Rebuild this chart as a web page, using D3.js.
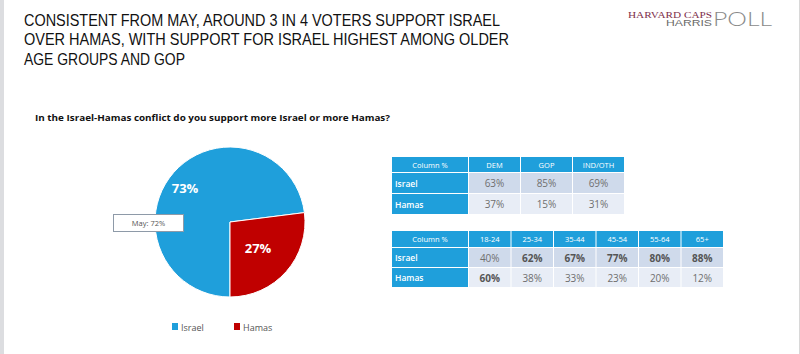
<!DOCTYPE html>
<html>
<head>
<meta charset="utf-8">
<script src="https://cdn.jsdelivr.net/npm/d3@7"></script>
<style>
  html, body { margin: 0; padding: 0; background: #fff; }
  svg { display: block; }
</style>
</head>
<body>
<svg id="chart" width="800" height="354"></svg>
<script>
// ---------- data ----------
const titleLines = [
  "CONSISTENT FROM MAY, AROUND 3 IN 4 VOTERS SUPPORT ISRAEL",
  "OVER HAMAS, WITH SUPPORT FOR ISRAEL HIGHEST AMONG OLDER",
  "AGE GROUPS AND GOP"
];
const question = "In the Israel-Hamas conflict do you support more Israel or more Hamas?";
const pieLabels = ["Israel", "Hamas"];
const pieValues = [73, 27];
const mayNote = "May: 72%";
const rowLabels = ["Israel", "Hamas"];
const partyCols = ["DEM", "GOP", "IND/OTH"];
const partyIsrael = [63, 85, 69];
const partyHamas = [37, 15, 31];
const ageCols = ["18-24", "25-34", "35-44", "45-54", "55-64", "65+"];
const ageIsrael = [40, 62, 67, 77, 80, 88];
const ageHamas = [60, 38, 33, 23, 20, 12];

// ---------- drawing ----------
const svg = d3.select("#chart");
const BLUE = "#1f9fdb", RED = "#c00000";
const SANS = "'Open Sans', 'Noto Sans', sans-serif";

// frame
svg.append("rect").attr("x", 0).attr("y", 0).attr("width", 800).attr("height", 354).attr("fill", "#fff");
svg.append("rect").attr("x", 0).attr("y", 0).attr("width", 4).attr("height", 354).attr("fill", "#dcdde0");
svg.append("rect").attr("x", 799).attr("y", 0).attr("width", 1).attr("height", 354).attr("fill", "#d8d8d8");

// title
const titleW = [476, 485, 161];
svg.append("g").selectAll("text").data(titleLines).join("text")
  .attr("x", 24).attr("y", (d, i) => 25.5 + i * 19.5)
  .attr("font-family", "'Liberation Sans', Arial, sans-serif").attr("font-size", 16.5).attr("fill", "#111")
  .attr("textLength", (d, i) => titleW[i]).attr("lengthAdjust", "spacingAndGlyphs")
  .text(d => d);

// logo
svg.append("text").attr("x", 628).attr("y", 17.5).attr("font-family", "'Liberation Serif', 'DejaVu Serif', serif")
  .attr("font-size", 8).attr("fill", "#7d2c48").attr("textLength", 84).attr("lengthAdjust", "spacingAndGlyphs")
  .text("HARVARD CAPS");
svg.append("text").attr("x", 666).attr("y", 26).attr("font-family", "'Liberation Sans', Arial, sans-serif")
  .attr("font-size", 9).attr("fill", "#6b6b6b").attr("textLength", 46).attr("lengthAdjust", "spacingAndGlyphs")
  .text("HARRIS");
svg.append("text").attr("x", 713).attr("y", 26).attr("font-family", "Lato, 'Open Sans', sans-serif")
  .attr("font-weight", 300).attr("font-size", 20).attr("fill", "#8a8a8a").attr("textLength", 59).attr("lengthAdjust", "spacingAndGlyphs")
  .text("POLL");

// question
svg.append("text").attr("x", 35).attr("y", 121).attr("font-family", SANS)
  .attr("font-size", 9.5).attr("font-weight", "bold").attr("fill", "#111")
  .attr("textLength", 355).attr("lengthAdjust", "spacingAndGlyphs")
  .text(question);

// pie
const cx = 230, cy = 222, r = 75;
const color = d3.scaleOrdinal().domain(pieLabels).range([BLUE, RED]);
const pie = d3.pie().sort(null).startAngle(Math.PI).endAngle(3 * Math.PI);
const arcs = pie(pieValues);
const arc = d3.arc().innerRadius(0).outerRadius(r);
const pg = svg.append("g").attr("transform", `translate(${cx},${cy})`);
pg.selectAll("path").data(arcs).join("path")
  .attr("d", arc).attr("fill", (d, i) => color(pieLabels[i]))
  .attr("stroke", "#fff").attr("stroke-width", 1);
const labelPos = [[-45, -34], [28, 26]];
pg.selectAll("text.pl").data(arcs).join("text").attr("class", "pl")
  .attr("x", (d, i) => labelPos[i][0]).attr("y", (d, i) => labelPos[i][1])
  .attr("text-anchor", "middle").attr("dominant-baseline", "central")
  .attr("font-family", SANS).attr("font-weight", "bold").attr("font-size", 13).attr("fill", "#fff")
  .text(d => d.data + "%");

// May note box
svg.append("rect").attr("x", 113.5).attr("y", 214.5).attr("width", 70).attr("height", 17)
  .attr("fill", "#fff").attr("stroke", "#8e9aa8").attr("stroke-width", 1);
svg.append("text").attr("x", 148.5).attr("y", 223).attr("text-anchor", "middle").attr("dominant-baseline", "central")
  .attr("font-family", SANS).attr("font-size", 7.5).attr("fill", "#555").text(mayNote);

// legend
const lx = [172, 234];
const lg = svg.append("g");
lg.selectAll("rect").data(pieLabels).join("rect")
  .attr("x", (d, i) => lx[i]).attr("y", 323).attr("width", 6).attr("height", 7)
  .attr("fill", d => color(d));
lg.selectAll("text").data(pieLabels).join("text")
  .attr("x", (d, i) => lx[i] + 9).attr("y", 327).attr("dominant-baseline", "central")
  .attr("font-family", SANS).attr("font-size", 9).attr("fill", "#555").text(d => d);

// tables
function drawTable(cols, israel, hamas, x0, x1, y0, headH, rowH, boldIsrael, boldHamas) {
  const g = svg.append("g");
  const firstW = 76;
  const xs = d3.scaleBand().domain(cols).range([x0 + firstW + 1, x1]).paddingInner(0);
  const bw = xs.bandwidth();
  const rowsY = [y0, y0 + headH + 1, y0 + headH + 1 + rowH + 1];
  // header
  g.append("rect").attr("x", x0).attr("y", rowsY[0]).attr("width", firstW).attr("height", headH).attr("fill", BLUE);
  g.append("text").attr("x", x0 + firstW / 2).attr("y", rowsY[0] + headH / 2)
    .attr("text-anchor", "middle").attr("dominant-baseline", "central")
    .attr("font-family", SANS).attr("font-size", 7.5).attr("fill", "#fff").text("Column %");
  g.selectAll("rect.h").data(cols).join("rect").attr("class", "h")
    .attr("x", d => xs(d)).attr("y", rowsY[0]).attr("width", bw - 1).attr("height", headH).attr("fill", BLUE);
  g.selectAll("text.h").data(cols).join("text").attr("class", "h")
    .attr("x", d => xs(d) + (bw - 1) / 2).attr("y", rowsY[0] + headH / 2)
    .attr("text-anchor", "middle").attr("dominant-baseline", "central")
    .attr("font-family", SANS).attr("font-size", 7.5).attr("fill", "#fff").text(d => d);
  const rows = [israel, hamas];
  const fills = ["#cfdaeb", "#e8edf6"];
  const bolds = [boldIsrael, boldHamas];
  rows.forEach((vals, ri) => {
    const y = rowsY[ri + 1];
    g.append("rect").attr("x", x0).attr("y", y).attr("width", firstW).attr("height", rowH).attr("fill", BLUE);
    g.append("text").attr("x", x0 + 3).attr("y", y + rowH / 2).attr("dominant-baseline", "central")
      .attr("font-family", SANS).attr("font-size", 8.5).attr("font-weight", 600).attr("fill", "#fff").text(rowLabels[ri]);
    g.selectAll("rect.r" + ri).data(vals).join("rect").attr("class", "r" + ri)
      .attr("x", (d, i) => xs(cols[i])).attr("y", y).attr("width", bw - 1).attr("height", rowH).attr("fill", fills[ri]);
    g.selectAll("text.r" + ri).data(vals).join("text").attr("class", "r" + ri)
      .attr("x", (d, i) => xs(cols[i]) + (bw - 1) / 2).attr("y", y + rowH / 2)
      .attr("text-anchor", "middle").attr("dominant-baseline", "central")
      .attr("font-family", SANS).attr("font-size", 10)
      .attr("font-weight", (d, i) => bolds[ri][i] ? "bold" : "normal")
      .attr("fill", (d, i) => bolds[ri][i] ? "#555" : "#6f6f6f")
      .text(d => d + "%");
  });
}
drawTable(partyCols, partyIsrael, partyHamas, 392, 625, 157, 15, 20,
  [false, false, false], [false, false, false]);
drawTable(ageCols, ageIsrael, ageHamas, 392, 724, 231, 16, 19,
  [false, true, true, true, true, true], [true, false, false, false, false, false]);
</script>
</body>
</html>
